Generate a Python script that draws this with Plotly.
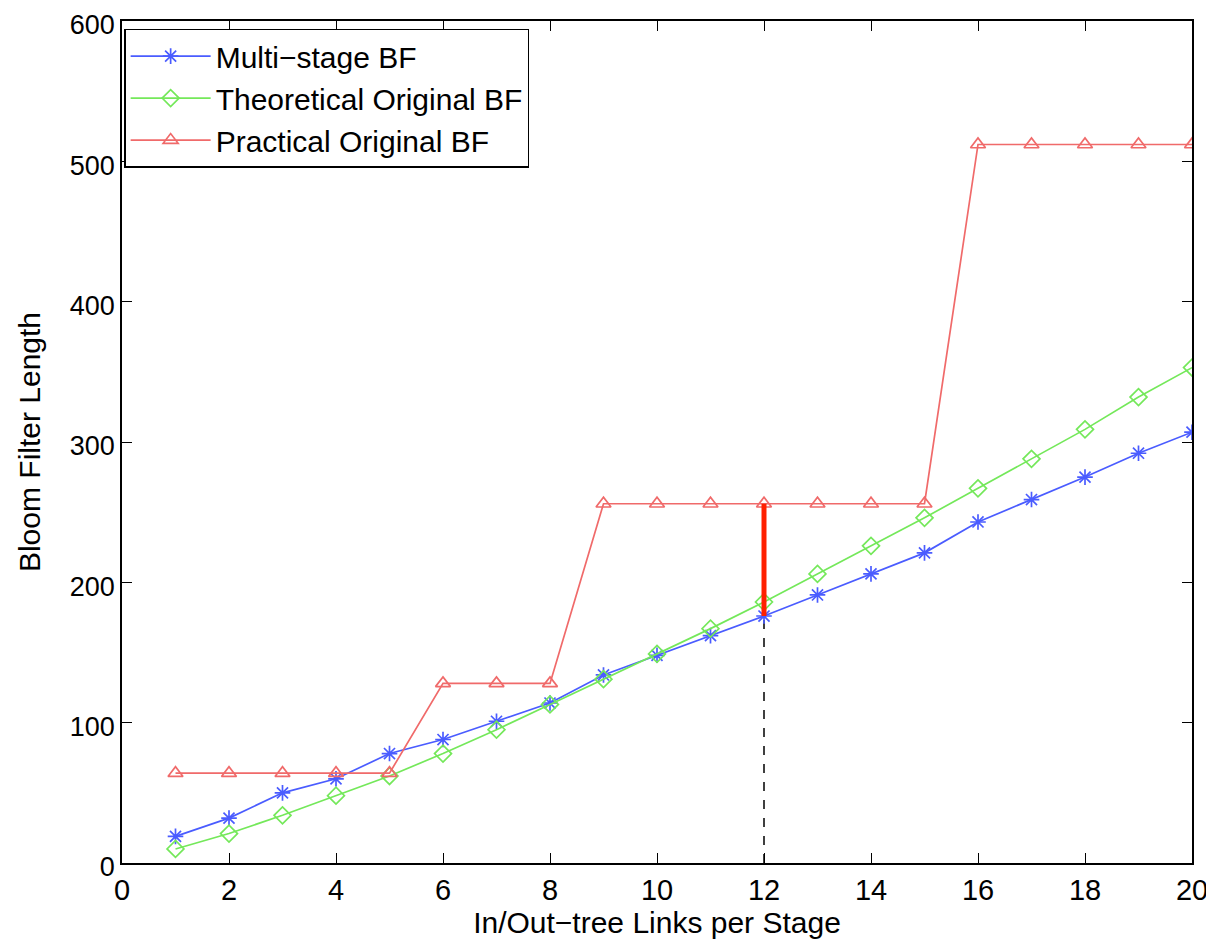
import plotly.graph_objects as go

x = list(range(1, 21))
multi_stage = [19, 32, 50, 60, 78, 88, 101, 114, 134, 148, 162, 176, 191, 206, 221, 243, 259, 275, 292, 307]
theoretical = [10, 21, 34, 48, 62, 78, 95, 113, 131, 149, 167, 186, 206, 226, 246, 267, 288, 309, 332, 353]
practical = [64, 64, 64, 64, 64, 128, 128, 128, 256, 256, 256, 256, 256, 256, 256, 512, 512, 512, 512, 512]
mark_x = 12
mark_low = 176
mark_high = 256

fig = go.Figure()
fig.add_trace(go.Scatter(x=[mark_x, mark_x], y=[0, mark_low], mode="lines",
                         line=dict(color="black", width=1.5, dash="dash"), showlegend=False))
fig.add_trace(go.Scatter(x=x, y=multi_stage, mode="lines+markers", name="Multi\u2212stage BF",
                         line=dict(color="#4a5cff", width=1.7),
                         marker=dict(symbol="asterisk-open", size=13, color="#4a5cff", line=dict(width=1.7, color="#4a5cff"))))
fig.add_trace(go.Scatter(x=x, y=theoretical, mode="lines+markers", name="Theoretical Original BF",
                         line=dict(color="#74e85a", width=1.7),
                         marker=dict(symbol="diamond-open", size=13, color="#74e85a", line=dict(width=1.7, color="#74e85a"))))
fig.add_trace(go.Scatter(x=x, y=practical, mode="lines+markers", name="Practical Original BF",
                         line=dict(color="#f06a6a", width=1.7),
                         marker=dict(symbol="triangle-up-open", size=13, color="#f06a6a", line=dict(width=1.7, color="#f06a6a"))))
fig.add_trace(go.Scatter(x=[mark_x, mark_x], y=[mark_low, mark_high], mode="lines",
                         line=dict(color="#ff2000", width=5), showlegend=False))

font = "Liberation Sans, Arial, Helvetica, sans-serif"
fig.update_layout(
    width=1206, height=931,
    margin=dict(l=114, r=22, t=13, b=76, autoexpand=False),
    paper_bgcolor="white", plot_bgcolor="white",
    font=dict(family=font, size=29, color="black"),
    showlegend=True,
    legend=dict(x=0.002, y=0.991, xanchor="left", yanchor="top",
                bordercolor="black", borderwidth=1.5, bgcolor="white",
                font=dict(size=30), tracegroupgap=0, itemwidth=80),
    xaxis=dict(range=[0, 20], dtick=2, tick0=0, showgrid=False, zeroline=False,
               showline=True, linecolor="black", linewidth=1.5, mirror="allticks",
               ticks="inside", ticklen=10, tickcolor="black", ticklabeloverflow="allow",
               automargin=False,
               title=dict(text="In/Out\u2212tree Links per Stage", font=dict(size=30), standoff=0)),
    yaxis=dict(range=[0, 600], dtick=100, showgrid=False, zeroline=False,
               showline=True, linecolor="black", linewidth=1.5, mirror="allticks",
               ticks="inside", ticklen=10, tickcolor="black", ticklabeloverflow="allow",
               automargin=False, tickfont=dict(size=27), ticklabelshift=4,
               title=dict(text="Bloom Filter Length", font=dict(size=30), standoff=20)),
)
fig.write_html("out.html")
